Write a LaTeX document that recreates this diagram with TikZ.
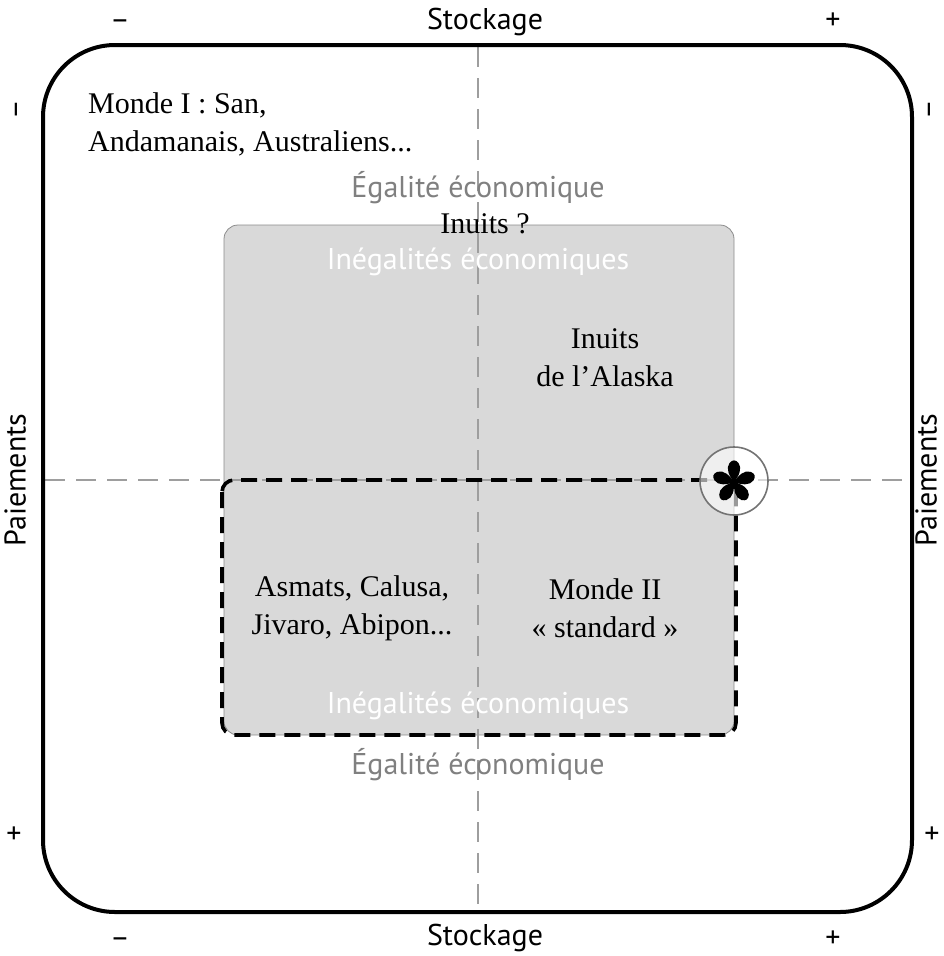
\documentclass[tikz,border=0pt]{standalone}
\usepackage{fontspec}
\setmainfont{Liberation Serif}
\newfontfamily\sansf{PT Sans}
\begin{document}
\begin{tikzpicture}[x=1pt,y=-1pt,
  axislbl/.style={font=\sansf\fontsize{30}{34}\selectfont, text=black, inner sep=0, text height=21, text depth=6},
  serif/.style={font=\fontsize{30}{38}\selectfont, align=center, inner sep=0},
  graylbl/.style={font=\sansf\fontsize{30}{34}\selectfont, text=black!50, inner sep=0},
  whitelbl/.style={font=\sansf\fontsize{30}{34}\selectfont, text=white, inner sep=0},
  axisline/.style={draw=black!38, line width=2.2, dash pattern=on 20 off 11},
]
\useasboundingbox (0,0) rectangle (944,956);
% gray box
\draw[fill=black!15, draw=black!45, line width=0.8, rounded corners=14] (224,225) rectangle (734,735);
% axes
\coordinate (vt) at (478,47);
\coordinate (vb) at (478,911);
\coordinate (hl) at (45,480);
\coordinate (hr) at (910,480);
\draw[axisline] (vt) -- (vb);
\draw[axisline] (hl) -- (hr);
% dashed black box
\draw[line width=3.6, dash pattern=on 16 off 9, rounded corners=12] (222,480) rectangle (736,735);
% outer frame
\draw[line width=4, rounded corners=72] (43,45) rectangle (912,912);
% labels
\node[axislbl] (st) at (485,22) {Stockage};
\node[axislbl] (sb) at (485,938) {Stockage};
\node[axislbl] (tm) at (120,22) {–};
\node[axislbl] (tp) at (833,22) {+};
\node[axislbl] (bm) at (120,940) {–};
\node[axislbl] (bp) at (833,940) {+};
\node[axislbl, rotate=90] (pl) at (18,480) {Paiements};
\node[axislbl, rotate=90] (pr) at (929,480) {Paiements};
\node[axislbl, rotate=90] (lm) at (17,110) {–};
\node[axislbl] (lp) at (14,836) {+};
\node[axislbl, rotate=90] (rm) at (930,110) {–};
\node[axislbl] (rp) at (932,836) {+};
% texts
\node[serif, align=left, anchor=west] (m1) at (88,124) {Monde I : San,\\Andamanais, Australiens...};
\node[graylbl] (eg1) at (478,188) {Égalité économique};
\node[serif] (iq) at (485,224) {Inuits ?};
\node[whitelbl] (in1) at (478,262) {Inégalités économiques};
\node[serif] (ia) at (605,358) {Inuits\\de l’Alaska};
\node[serif] (as) at (352,608) {Asmats, Calusa,\\Jivaro, Abipon...};
\node[serif] (m2) at (605,608) {Monde II\\« standard »};
\node[whitelbl] (in2) at (478,706) {Inégalités économiques};
\node[graylbl] (eg2) at (478,765) {Égalité économique};
% star circle
\node[circle, draw=black!55, line width=1.6, fill=white, fill opacity=0.6, minimum size=68, inner sep=0] (circ) at (734,481) {};
\coordinate (sc) at (734,482);
\foreach \a in {90,18,162,234,306}{
  \begin{scope}[shift={(sc)}, rotate=\a]
    \fill[black] (0,0) .. controls (6,5) and (14,8.5) .. (19,4.5) .. controls (22.5,1.5) and (22.5,-1.5) .. (19,-4.5) .. controls (14,-8.5) and (6,-5) .. (0,0) -- cycle;
  \end{scope}
}
\fill[black] (sc) circle [radius=4];
\end{tikzpicture}
\end{document}
